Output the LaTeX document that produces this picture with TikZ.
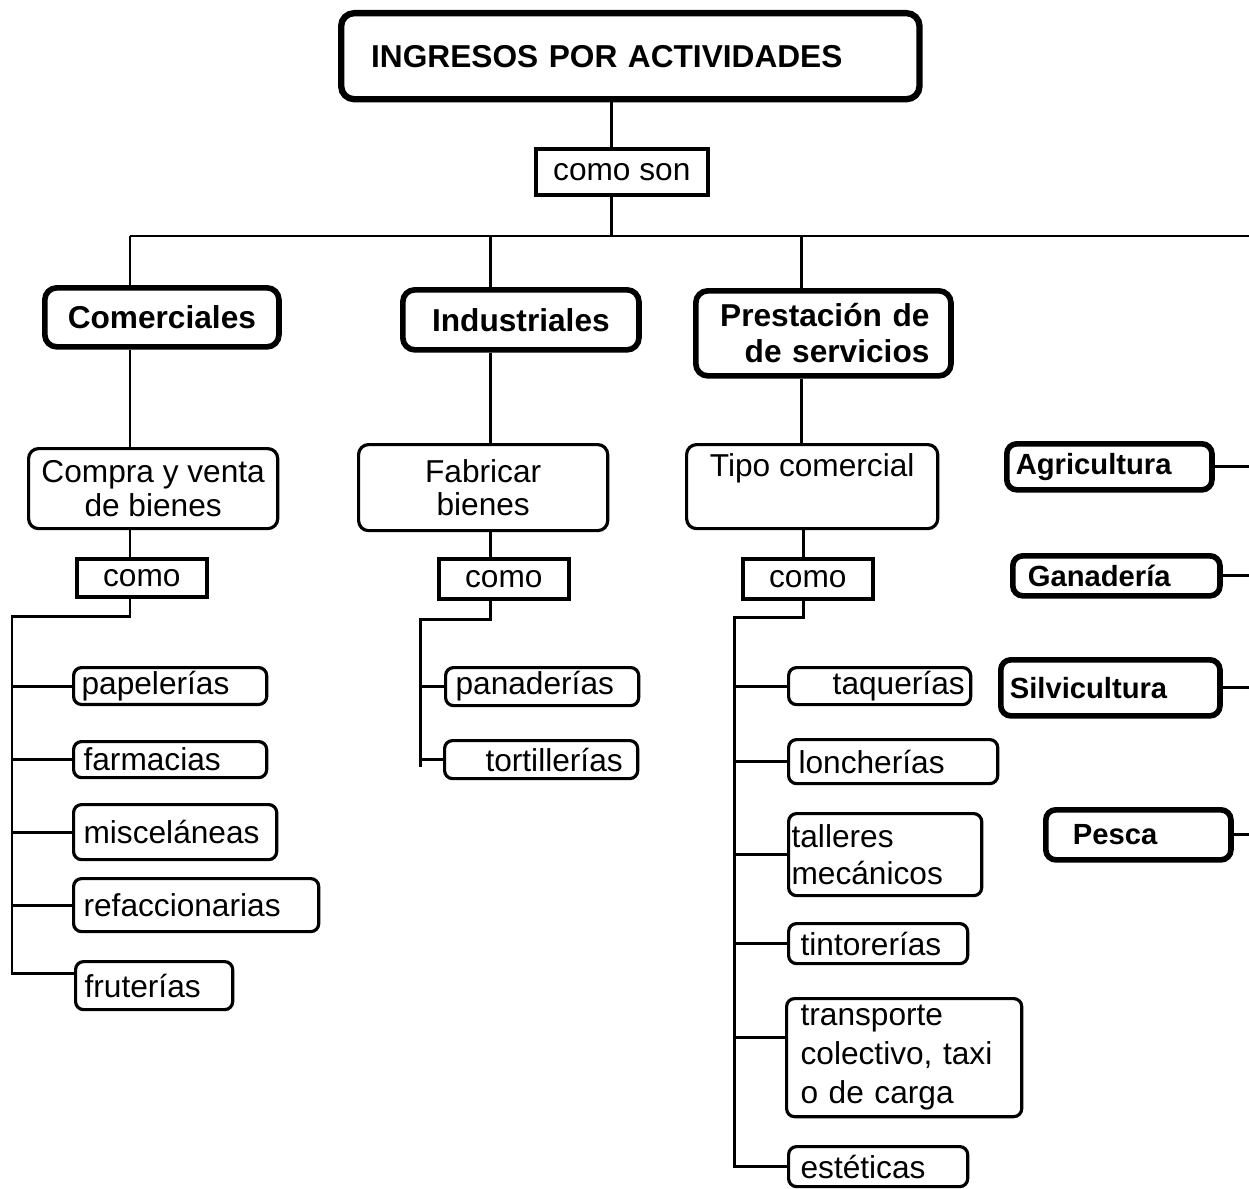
\documentclass[tikz,border=0pt]{standalone}
\usepackage{fontspec}
\setmainfont{Liberation Sans}
\usepackage{tikz}

\begin{document}
\begin{tikzpicture}%
        [x={(0.01cm, 0cm)},
        y={(0cm, -0.01cm)},
        link/.style={line width=0.85pt},
        headbox/.style={draw, rounded corners=0.13cm, line width=1.8pt, anchor=north west, align=left, inner ysep=1pt, font=\fontsize{9pt}{10.5pt}\selectfont\bfseries},
        kindbox/.style={draw, rounded corners=0.12cm, line width=1.6pt, anchor=north west, align=center, inner ysep=1pt, font=\fontsize{9pt}{10.2pt}\selectfont\bfseries},
        groupbox/.style={draw, rounded corners=0.1cm, line width=0.9pt, anchor=north west, align=center, inner sep=1pt, font=\fontsize{9pt}{9.6pt}\selectfont},
        joinbox/.style={draw, line width=1pt, anchor=north west, align=center, inner sep=1pt, font=\fontsize{9pt}{10.5pt}\selectfont},
        leaf/.style={draw, rounded corners=0.08cm, line width=0.9pt, anchor=north west, align=left, inner ysep=1pt, font=\fontsize{9pt}{10.5pt}\selectfont},
        primbox/.style={draw, rounded corners=0.1cm, line width=1.6pt, anchor=north west, align=left, inner ysep=1pt, font=\fontsize{8.3pt}{10pt}\selectfont\bfseries}]

    \useasboundingbox (0,0) rectangle (1249,1188);

    %% Top of the map
    \node[headbox, text width=5.18cm, inner xsep=0.30cm, minimum height=0.86cm] (ingresos) at (338,10) {INGRESOS POR ACTIVIDADES};
    \node[joinbox, minimum width=1.72cm, minimum height=0.46cm] (comoson) at (534,147) {como son};
    %%
    \coordinate (busC) at (611,236);
    \coordinate (busL) at (130,236);
    \coordinate (busI) at (490,236);
    \coordinate (busS) at (801,236);
    \coordinate (busR) at (1249,236);
    \draw[link] (ingresos.south -| busC) -- (comoson.north -| busC);
    \draw[link] (comoson.south -| busC) -- (busC);
    \draw[link] (busL) -- (busR);
    %%
    %% Kinds of activity
    %%
    \node[kindbox, minimum width=2.34cm, minimum height=0.59cm] (comerciales) at (42,285) {Comerciales};
    \node[kindbox, minimum width=2.36cm, minimum height=0.60cm] (industriales) at (400,287) {Industriales};
    \node[kindbox, align=right, text width=2.12cm, inner xsep=0.215cm, minimum height=0.85cm] (servicios) at (693,288) {Prestación de\\de servicios};
    \draw[link] (busL) -- (comerciales.north -| busL);
    \draw[link] (busI) -- (industriales.north -| busI);
    \draw[link] (busS) -- (servicios.north -| busS);
    %%
    \node[groupbox, minimum width=2.49cm, minimum height=0.80cm] (compra) at (27,447) {Compra y venta\\de bienes};
    \node[groupbox, minimum width=2.49cm, minimum height=0.86cm] (fabricar) at (357,443) {Fabricar\\bienes};
    \node[groupbox, minimum width=2.51cm, minimum height=0.84cm] (tipo) at (685,443) {Tipo comercial\\\strut};
    \draw[link] (comerciales.south -| busL) -- (compra.north -| busL);
    \draw[link] (industriales.south -| busI) -- (fabricar.north -| busI);
    \draw[link] (servicios.south -| busS) -- (tipo.north -| busS);
    %%
    \node[joinbox, minimum width=1.30cm, minimum height=0.38cm] (como1) at (75,557) {como};
    \node[joinbox, minimum width=1.30cm, minimum height=0.40cm] (como2) at (437,557) {como};
    \node[joinbox, minimum width=1.30cm, minimum height=0.40cm] (como3) at (741,557) {como};
    \draw[link] (compra.south -| busL) -- (como1.north -| busL);
    \draw[link] (fabricar.south -| busI) -- (como2.north -| busI);
    \draw[link] (tipo.south -| 803,0) -- (como3.north -| 803,0);
    %%
    %% Comerciales
    %%
    \node[leaf, text width=1.77cm, inner xsep=0.08cm, minimum height=0.36cm] (papelerias) at (72,666) {papelerías};
    \node[leaf, text width=1.73cm, inner xsep=0.10cm, minimum height=0.36cm] (farmacias) at (72,740) {farmacias};
    \node[leaf, text width=1.83cm, inner xsep=0.10cm, minimum height=0.55cm] (miscelaneas) at (72,803) {misceláneas};
    \node[leaf, text width=2.25cm, inner xsep=0.10cm, minimum height=0.53cm] (refaccionarias) at (72,877) {refaccionarias};
    \node[leaf, text width=1.39cm, inner xsep=0.09cm, minimum height=0.48cm] (fruterias) at (74,960) {fruterías};
    \coordinate (railA) at (12,616);
    \coordinate (fruIn) at ([yshift=0.12cm]fruterias.west);
    \draw[link] (como1.south -| busL) |- (railA) -- (railA |- fruIn) -- (fruIn);
    \draw[link] (railA |- papelerias.west) -- (papelerias.west);
    \draw[link] (railA |- farmacias.west) -- (farmacias.west);
    \draw[link] (railA |- miscelaneas.west) -- (miscelaneas.west);
    \draw[link] (railA |- refaccionarias.west) -- (refaccionarias.west);
    %%
    %% Industriales
    %%
    \node[leaf, text width=1.73cm, inner xsep=0.10cm, minimum height=0.38cm] (panaderias) at (444,666) {panaderías};
    \node[leaf, align=right, text width=1.63cm, inner xsep=0.15cm, minimum height=0.38cm] (tortillerias) at (443,739) {tortillerías};
    \coordinate (railB) at (420,619);
    \coordinate (railBend) at (420,767);
    \draw[link] (como2.south -| busI) |- (railB) -- (railBend);
    \draw[link] (railB |- panaderias.west) -- (panaderias.west);
    \draw[link] (railB |- tortillerias.west) -- (tortillerias.west);
    %%
    %% Prestacion de servicios
    %%
    \node[leaf, align=right, text width=1.70cm, inner xsep=0.06cm, minimum height=0.37cm] (taquerias) at (787,666) {taquerías};
    \node[leaf, text width=1.89cm, inner xsep=0.10cm, minimum height=0.44cm] (loncherias) at (787,738) {loncherías};
    \node[leaf, text width=1.87cm, inner xsep=0.03cm, minimum height=0.82cm] (talleres) at (787,812) {talleres\\mecánicos};
    \node[leaf, text width=1.55cm, inner xsep=0.12cm, minimum height=0.40cm] (tintorerias) at (787,922) {tintorerías};
    \node[leaf, text width=2.07cm, inner xsep=0.14cm, minimum height=1.18cm, font=\fontsize{9pt}{11pt}\selectfont] (transporte) at (785,997) {transporte\\colectivo, taxi\\o de carga};
    \node[leaf, text width=1.55cm, inner xsep=0.12cm, minimum height=0.40cm] (esteticas) at (787,1145) {estéticas};
    \coordinate (railC) at (734,617);
    \coordinate (traIn) at ([yshift=0.2cm]transporte.west);
    \draw[link] (como3.south -| 803,0) |- (railC) -- (railC |- esteticas.west) -- (esteticas.west);
    \draw[link] (railC |- taquerias.west) -- (taquerias.west);
    \draw[link] (railC |- loncherias.west) -- (loncherias.west);
    \draw[link] (railC |- talleres.west) -- (talleres.west);
    \draw[link] (railC |- tintorerias.west) -- (tintorerias.west);
    \draw[link] (railC |- traIn) -- (traIn);
    %%
    %% Right hand side
    %%
    \node[primbox, text width=1.87cm, inner xsep=0.09cm, minimum height=0.46cm] (agricultura) at (1004,441) {Agricultura};
    \node[primbox, text width=1.77cm, inner xsep=0.15cm, minimum height=0.40cm] (ganaderia) at (1010,553) {Ganadería};
    \node[primbox, text width=2.01cm, inner xsep=0.09cm, minimum height=0.56cm] (silvicultura) at (998,657) {Silvicultura};
    \node[primbox, text width=1.31cm, inner xsep=0.27cm, minimum height=0.50cm] (pesca) at (1043,807) {Pesca};
    \draw[link] (agricultura.east) -- (agricultura.east -| busR);
    \draw[link] (ganaderia.east) -- (ganaderia.east -| busR);
    \draw[link] (silvicultura.east) -- (silvicultura.east -| busR);
    \draw[link] (pesca.east) -- (pesca.east -| busR);
    %%
    \end{tikzpicture}
\end{document}
